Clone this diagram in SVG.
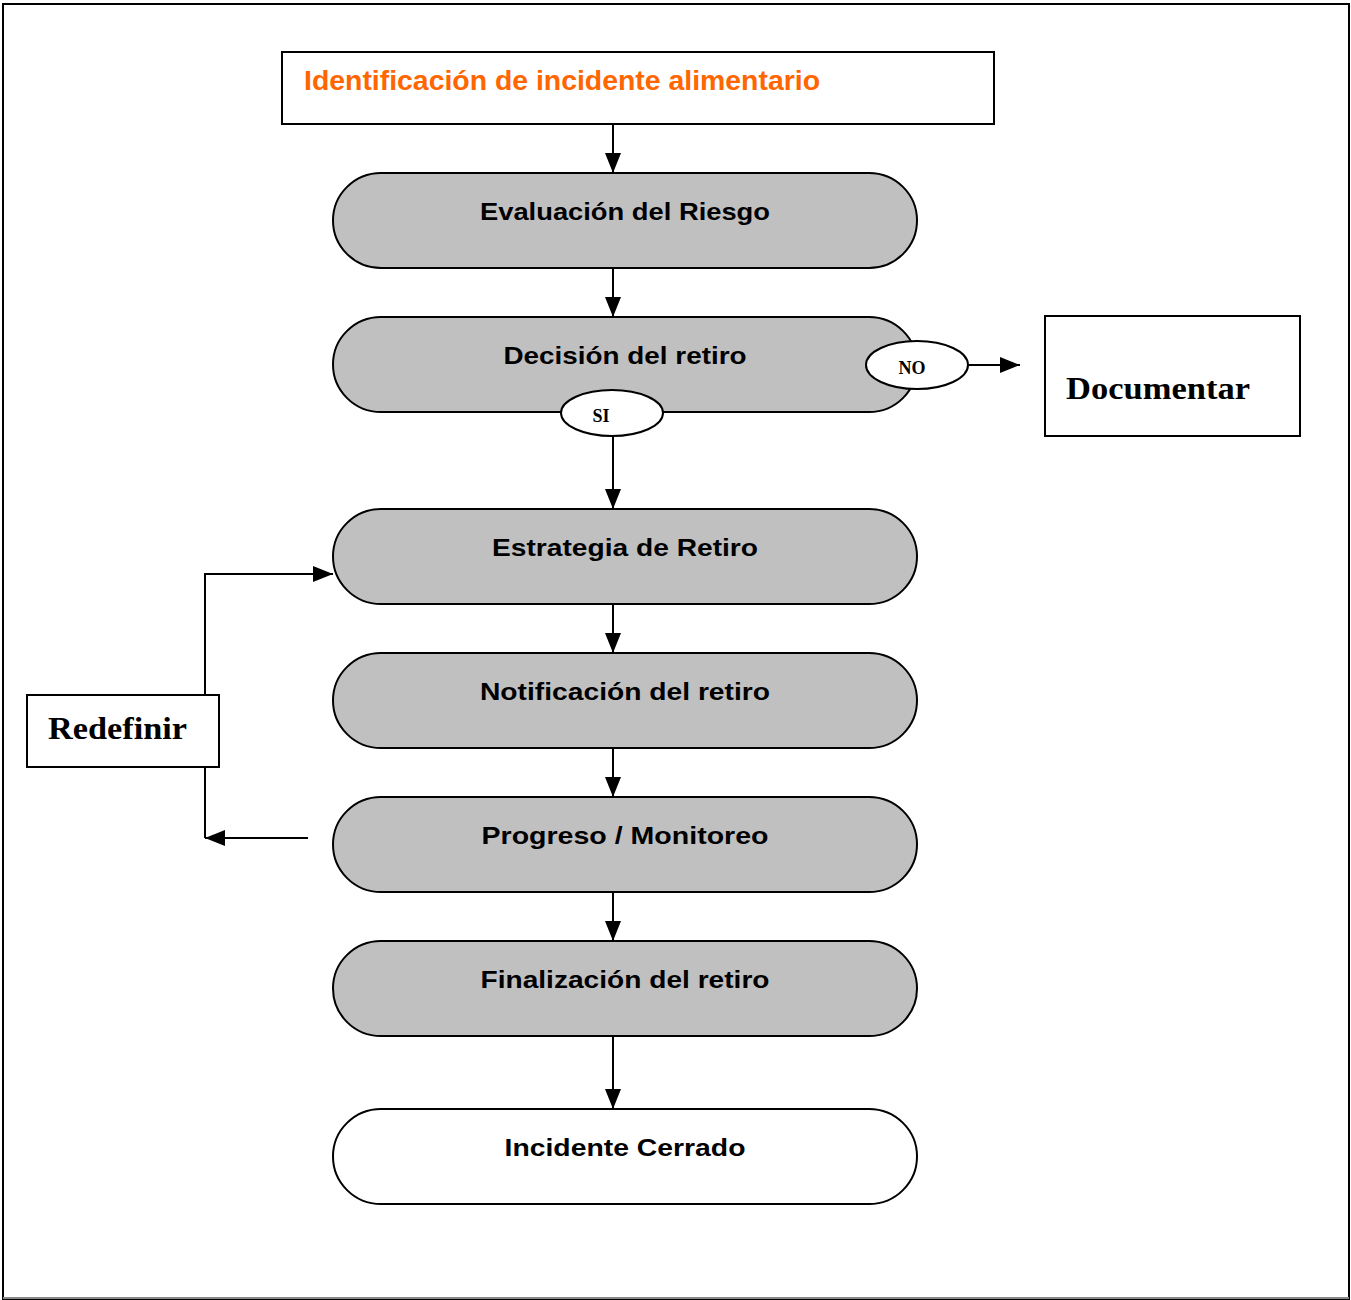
<svg xmlns="http://www.w3.org/2000/svg" width="1351" height="1300" viewBox="0 0 1351 1300">
<style>
.pill{fill:#c0c0c0;stroke:#000;stroke-width:2}
.pw{fill:#fff;stroke:#000;stroke-width:2}
.box{fill:#fff;stroke:#000;stroke-width:2}
.t{font-family:"Liberation Sans","DejaVu Sans",sans-serif;font-weight:bold;font-size:24px;fill:#000;text-anchor:middle}
.serif{font-family:"Liberation Serif",serif;font-weight:bold;fill:#000}
.ln{stroke:#000;stroke-width:2;fill:none}
</style>
<defs>
<marker id="ah" viewBox="0 0 20 16" refX="20" refY="8" markerWidth="20" markerHeight="16" markerUnits="userSpaceOnUse" orient="auto">
<path d="M0,0 L20,8 L0,16 Z" fill="#000"/>
</marker>
</defs>
<rect x="0" y="0" width="1351" height="1300" fill="#fff"/>
<rect x="3" y="4" width="1346" height="1296" fill="none" stroke="#000" stroke-width="2"/>
<line x1="3" y1="1298" x2="1349" y2="1298" stroke="#888" stroke-width="2"/>
<g id="connectors">
<line class="ln" x1="613" y1="124" x2="613" y2="173" marker-end="url(#ah)"/>
<line class="ln" x1="613" y1="268" x2="613" y2="317" marker-end="url(#ah)"/>
<line class="ln" x1="613" y1="436" x2="613" y2="509" marker-end="url(#ah)"/>
<line class="ln" x1="968" y1="365" x2="1020" y2="365" marker-end="url(#ah)"/>
<line class="ln" x1="613" y1="604" x2="613" y2="653" marker-end="url(#ah)"/>
<line class="ln" x1="613" y1="748" x2="613" y2="797" marker-end="url(#ah)"/>
<line class="ln" x1="613" y1="892" x2="613" y2="941" marker-end="url(#ah)"/>
<line class="ln" x1="613" y1="1036" x2="613" y2="1109" marker-end="url(#ah)"/>
<polyline class="ln" points="205,695 205,574 333,574" marker-end="url(#ah)"/>
<line class="ln" x1="308" y1="838" x2="205" y2="838" marker-end="url(#ah)"/>
<line class="ln" x1="205" y1="838" x2="205" y2="767"/>
</g>
<g id="n-ident">
<rect class="box" x="282" y="52" width="712" height="72"/>
<text x="304" y="90" font-family="Liberation Sans,DejaVu Sans,sans-serif" font-weight="bold" font-size="27" fill="#ff6600" textLength="516" lengthAdjust="spacingAndGlyphs">Identificación de incidente alimentario</text>
</g>
<g id="n-eval">
<rect class="pill" x="333" y="173" width="584" height="95" rx="48" ry="48"/>
<text class="t" x="625" y="220" textLength="290" lengthAdjust="spacingAndGlyphs">Evaluación del Riesgo</text>
</g>
<g id="n-decision">
<rect class="pill" x="333" y="317" width="584" height="95" rx="48" ry="48"/>
<text class="t" x="625" y="364" textLength="243" lengthAdjust="spacingAndGlyphs">Decisión del retiro</text>
</g>
<g id="n-no">
<ellipse cx="917" cy="365" rx="51" ry="24" fill="#fff" stroke="#000" stroke-width="2"/>
<text class="serif" x="912" y="374" font-size="18" text-anchor="middle">NO</text>
</g>
<g id="n-si">
<ellipse cx="612" cy="413" rx="51" ry="23" fill="#fff" stroke="#000" stroke-width="2"/>
<text class="serif" x="601" y="422" font-size="18" text-anchor="middle">SI</text>
</g>
<g id="n-doc">
<rect class="box" x="1045" y="316" width="255" height="120"/>
<text class="serif" x="1066" y="399" font-size="32" textLength="184" lengthAdjust="spacingAndGlyphs">Documentar</text>
</g>
<g id="n-estr">
<rect class="pill" x="333" y="509" width="584" height="95" rx="48" ry="48"/>
<text class="t" x="625" y="556" textLength="266" lengthAdjust="spacingAndGlyphs">Estrategia de Retiro</text>
</g>
<g id="n-notif">
<rect class="pill" x="333" y="653" width="584" height="95" rx="48" ry="48"/>
<text class="t" x="625" y="700" textLength="290" lengthAdjust="spacingAndGlyphs">Notificación del retiro</text>
</g>
<g id="n-prog">
<rect class="pill" x="333" y="797" width="584" height="95" rx="48" ry="48"/>
<text class="t" x="625" y="844" textLength="287" lengthAdjust="spacingAndGlyphs">Progreso / Monitoreo</text>
</g>
<g id="n-fin">
<rect class="pill" x="333" y="941" width="584" height="95" rx="48" ry="48"/>
<text class="t" x="625" y="988" textLength="289" lengthAdjust="spacingAndGlyphs">Finalización del retiro</text>
</g>
<g id="n-cerrado">
<rect class="pw" x="333" y="1109" width="584" height="95" rx="48" ry="48"/>
<text class="t" x="625" y="1156" textLength="241" lengthAdjust="spacingAndGlyphs">Incidente Cerrado</text>
</g>
<g id="n-redef">
<rect class="box" x="27" y="695" width="192" height="72"/>
<text class="serif" x="48" y="739" font-size="32" textLength="139" lengthAdjust="spacingAndGlyphs">Redefinir</text>
</g>
</svg>
